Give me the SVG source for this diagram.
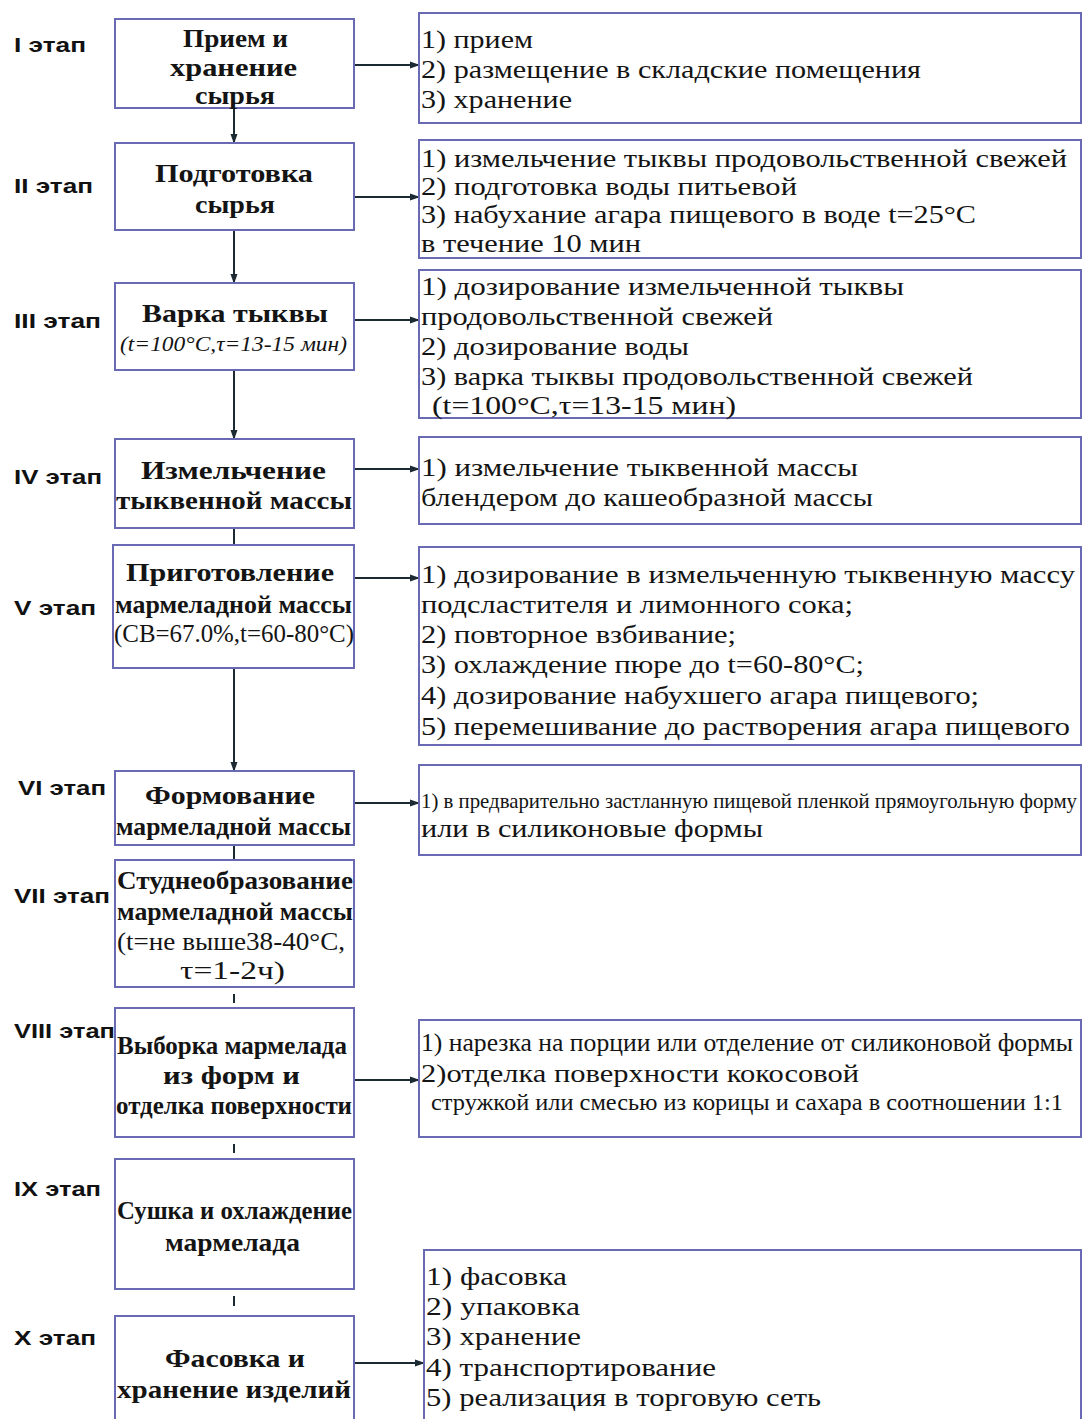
<svg xmlns="http://www.w3.org/2000/svg" width="1083" height="1419" viewBox="0 0 1083 1419">
<defs>
<style>
.box{fill:#ffffff;stroke:#6a6ab4;stroke-width:2}
.lt{font-family:"Liberation Serif","Times New Roman",serif;font-weight:bold;font-size:26px;fill:#141414}
.ln{font-family:"Liberation Serif","Times New Roman",serif;font-size:26px;fill:#141414}
.li{font-family:"Liberation Serif","Times New Roman",serif;font-style:italic;font-size:21px;fill:#141414}
.rt{font-family:"Liberation Serif","Times New Roman",serif;font-size:26px;fill:#141414}
.st{font-family:"Liberation Sans",Arial,sans-serif;font-weight:bold;font-size:21px;fill:#111}
.conn line{stroke:#1c2a33;stroke-width:2}
</style>
<marker id="ah" markerWidth="10" markerHeight="8" refX="9" refY="4" orient="auto" markerUnits="userSpaceOnUse">
<path d="M0,0.5 L10,4 L0,7.5 Z" fill="#1c2a33"/>
</marker>
</defs>
<rect width="1083" height="1419" fill="#ffffff"/>

<g id="stages">
<text class="st" x="14" y="52" textLength="72" lengthAdjust="spacingAndGlyphs">I этап</text>
<text class="st" x="14" y="193" textLength="79" lengthAdjust="spacingAndGlyphs">II этап</text>
<text class="st" x="14" y="328" textLength="87" lengthAdjust="spacingAndGlyphs">III этап</text>
<text class="st" x="14" y="484" textLength="88" lengthAdjust="spacingAndGlyphs">IV этап</text>
<text class="st" x="14" y="615" textLength="82" lengthAdjust="spacingAndGlyphs">V этап</text>
<text class="st" x="18" y="795" textLength="88" lengthAdjust="spacingAndGlyphs">VI этап</text>
<text class="st" x="14" y="903" textLength="96" lengthAdjust="spacingAndGlyphs">VII этап</text>
<text class="st" x="14" y="1038" textLength="101" lengthAdjust="spacingAndGlyphs">VIII этап</text>
<text class="st" x="14" y="1196" textLength="87" lengthAdjust="spacingAndGlyphs">IX этап</text>
<text class="st" x="14" y="1345" textLength="82" lengthAdjust="spacingAndGlyphs">X этап</text>
</g>

<g class="conn" id="connectors">
<line x1="354" y1="65" x2="419" y2="65" marker-end="url(#ah)"/>
<line x1="354" y1="197" x2="419" y2="197" marker-end="url(#ah)"/>
<line x1="354" y1="320" x2="419" y2="320" marker-end="url(#ah)"/>
<line x1="354" y1="469" x2="419" y2="469" marker-end="url(#ah)"/>
<line x1="354" y1="578" x2="419" y2="578" marker-end="url(#ah)"/>
<line x1="354" y1="803" x2="419" y2="803" marker-end="url(#ah)"/>
<line x1="354" y1="1080" x2="419" y2="1080" marker-end="url(#ah)"/>
<line x1="354" y1="1363" x2="424" y2="1363" marker-end="url(#ah)"/>
<line x1="234" y1="98" x2="234" y2="143" marker-end="url(#ah)"/>
<line x1="234" y1="230" x2="234" y2="283" marker-end="url(#ah)"/>
<line x1="234" y1="370" x2="234" y2="439" marker-end="url(#ah)"/>
<line x1="234" y1="528" x2="234" y2="545"/>
<line x1="234" y1="668" x2="234" y2="771" marker-end="url(#ah)"/>
<line x1="234" y1="845" x2="234" y2="860"/>
<line x1="234" y1="994" x2="234" y2="1003"/>
<line x1="234" y1="1144" x2="234" y2="1153"/>
<line x1="234" y1="1296" x2="234" y2="1306"/>
</g>

<g id="n1">
<rect class="box" x="115" y="19" width="239" height="89"/>
<text class="lt" x="183" y="47" textLength="105" lengthAdjust="spacingAndGlyphs">Прием и</text>
<text class="lt" x="170" y="76" textLength="127" lengthAdjust="spacingAndGlyphs">хранение</text>
<text class="lt" x="195" y="104" textLength="80" lengthAdjust="spacingAndGlyphs">сырья</text>
</g>
<g id="n2">
<rect class="box" x="115" y="143" width="239" height="87"/>
<text class="lt" x="155" y="182" textLength="158" lengthAdjust="spacingAndGlyphs">Подготовка</text>
<text class="lt" x="195" y="213" textLength="80" lengthAdjust="spacingAndGlyphs">сырья</text>
</g>
<g id="n3">
<rect class="box" x="115" y="283" width="239" height="87"/>
<text class="lt" x="142" y="322" textLength="186" lengthAdjust="spacingAndGlyphs">Варка тыквы</text>
<text class="li" x="120" y="351" textLength="227" lengthAdjust="spacingAndGlyphs">(t=100°C,τ=13-15 мин)</text>
</g>
<g id="n4">
<rect class="box" x="115" y="439" width="239" height="89"/>
<text class="lt" x="141" y="479" textLength="185" lengthAdjust="spacingAndGlyphs">Измельчение</text>
<text class="lt" x="116" y="509" textLength="236" lengthAdjust="spacingAndGlyphs">тыквенной массы</text>
</g>
<g id="n5">
<rect class="box" x="113" y="545" width="241" height="123"/>
<text class="lt" x="126" y="581" textLength="208" lengthAdjust="spacingAndGlyphs">Приготовление</text>
<text class="lt" x="115" y="613" textLength="237" lengthAdjust="spacingAndGlyphs">мармеладной массы</text>
<text class="ln" x="114" y="642" textLength="240" lengthAdjust="spacingAndGlyphs">(СВ=67.0%,t=60-80°C)</text>
</g>
<g id="n6">
<rect class="box" x="115" y="771" width="239" height="74"/>
<text class="lt" x="145" y="804" textLength="170" lengthAdjust="spacingAndGlyphs">Формование</text>
<text class="lt" x="116" y="835" textLength="235" lengthAdjust="spacingAndGlyphs">мармеладной массы</text>
</g>
<g id="n7">
<rect class="box" x="115" y="860" width="239" height="127"/>
<text class="lt" x="117" y="889" textLength="236" lengthAdjust="spacingAndGlyphs">Студнеобразование</text>
<text class="lt" x="117" y="920" textLength="236" lengthAdjust="spacingAndGlyphs">мармеладной массы</text>
<text class="ln" x="117" y="950" textLength="228" lengthAdjust="spacingAndGlyphs">(t=не выше38-40°C,</text>
<text class="ln" x="180" y="979" textLength="105" lengthAdjust="spacingAndGlyphs">τ=1-2ч)</text>
</g>
<g id="n8">
<rect class="box" x="115" y="1008" width="239" height="129"/>
<text class="lt" x="117" y="1054" textLength="230" lengthAdjust="spacingAndGlyphs">Выборка мармелада</text>
<text class="lt" x="163" y="1084" textLength="137" lengthAdjust="spacingAndGlyphs">из форм и</text>
<text class="lt" x="116" y="1114" textLength="236" lengthAdjust="spacingAndGlyphs">отделка поверхности</text>
</g>
<g id="n9">
<rect class="box" x="115" y="1159" width="239" height="130"/>
<text class="lt" x="117" y="1219" textLength="235" lengthAdjust="spacingAndGlyphs">Сушка и охлаждение</text>
<text class="lt" x="165" y="1251" textLength="135" lengthAdjust="spacingAndGlyphs">мармелада</text>
</g>
<g id="n10">
<rect class="box" x="115" y="1316" width="239" height="120"/>
<text class="lt" x="165" y="1367" textLength="140" lengthAdjust="spacingAndGlyphs">Фасовка и</text>
<text class="lt" x="117" y="1398" textLength="234" lengthAdjust="spacingAndGlyphs">хранение изделий</text>
</g>

<g id="r1">
<rect class="box" x="419" y="13" width="662" height="110"/>
<text class="rt" x="421" y="48" textLength="112" lengthAdjust="spacingAndGlyphs">1) прием</text>
<text class="rt" x="421" y="78" textLength="500" lengthAdjust="spacingAndGlyphs">2) размещение в складские помещения</text>
<text class="rt" x="421" y="108" textLength="151" lengthAdjust="spacingAndGlyphs">3) хранение</text>
</g>
<g id="r2">
<rect class="box" x="419" y="140" width="662" height="118"/>
<text class="rt" x="421" y="167" textLength="646" lengthAdjust="spacingAndGlyphs">1) измельчение тыквы продовольственной свежей</text>
<text class="rt" x="421" y="195" textLength="376" lengthAdjust="spacingAndGlyphs">2) подготовка воды питьевой</text>
<text class="rt" x="421" y="223" textLength="555" lengthAdjust="spacingAndGlyphs">3) набухание агара пищевого в воде t=25°C</text>
<text class="rt" x="421" y="252" textLength="220" lengthAdjust="spacingAndGlyphs">в течение 10 мин</text>
</g>
<g id="r3">
<rect class="box" x="419" y="270" width="662" height="148"/>
<text class="rt" x="421" y="295" textLength="483" lengthAdjust="spacingAndGlyphs">1)  дозирование измельченной тыквы</text>
<text class="rt" x="421" y="325" textLength="352" lengthAdjust="spacingAndGlyphs">продовольственной свежей</text>
<text class="rt" x="421" y="355" textLength="268" lengthAdjust="spacingAndGlyphs">2) дозирование воды</text>
<text class="rt" x="421" y="385" textLength="552" lengthAdjust="spacingAndGlyphs">3) варка тыквы продовольственной свежей</text>
<text class="rt" x="432" y="414" textLength="304" lengthAdjust="spacingAndGlyphs">(t=100°C,τ=13-15 мин)</text>
</g>
<g id="r4">
<rect class="box" x="419" y="437" width="662" height="87"/>
<text class="rt" x="421" y="476" textLength="437" lengthAdjust="spacingAndGlyphs">1)  измельчение тыквенной массы</text>
<text class="rt" x="421" y="506" textLength="452" lengthAdjust="spacingAndGlyphs">блендером до кашеобразной массы</text>
</g>
<g id="r5">
<rect class="box" x="419" y="547" width="662" height="198"/>
<text class="rt" x="421" y="583" textLength="654" lengthAdjust="spacingAndGlyphs">1)  дозирование в измельченную тыквенную массу</text>
<text class="rt" x="421" y="613" textLength="432" lengthAdjust="spacingAndGlyphs">подсластителя и лимонного сока;</text>
<text class="rt" x="421" y="643" textLength="315" lengthAdjust="spacingAndGlyphs">2) повторное взбивание;</text>
<text class="rt" x="421" y="673" textLength="443" lengthAdjust="spacingAndGlyphs">3) охлаждение пюре до t=60-80°C;</text>
<text class="rt" x="421" y="704" textLength="558" lengthAdjust="spacingAndGlyphs">4) дозирование набухшего агара пищевого;</text>
<text class="rt" x="421" y="735" textLength="649" lengthAdjust="spacingAndGlyphs">5) перемешивание до растворения агара пищевого</text>
</g>
<g id="r6">
<rect class="box" x="419" y="765" width="662" height="90"/>
<text class="rt" x="421" y="808" style="font-size:21px" textLength="656" lengthAdjust="spacingAndGlyphs">1) в предварительно застланную пищевой пленкой прямоугольную форму</text>
<text class="rt" x="421" y="837" textLength="342" lengthAdjust="spacingAndGlyphs">или в силиконовые формы</text>
</g>
<g id="r8">
<rect class="box" x="419" y="1020" width="662" height="117"/>
<text class="rt" x="421" y="1051" textLength="652" lengthAdjust="spacingAndGlyphs">1) нарезка на порции или отделение от силиконовой формы</text>
<text class="rt" x="421" y="1082" textLength="438" lengthAdjust="spacingAndGlyphs">2)отделка поверхности кокосовой</text>
<text class="rt" x="431" y="1110" style="font-size:24px" textLength="632" lengthAdjust="spacingAndGlyphs">стружкой или смесью из корицы и сахара в соотношении 1:1</text>
</g>
<g id="r10">
<rect class="box" x="424" y="1250" width="657" height="190"/>
<text class="rt" x="426" y="1285" textLength="141" lengthAdjust="spacingAndGlyphs">1)  фасовка</text>
<text class="rt" x="426" y="1315" textLength="154" lengthAdjust="spacingAndGlyphs">2)  упаковка</text>
<text class="rt" x="426" y="1345" textLength="155" lengthAdjust="spacingAndGlyphs">3)  хранение</text>
<text class="rt" x="426" y="1376" textLength="290" lengthAdjust="spacingAndGlyphs">4)  транспортирование</text>
<text class="rt" x="426" y="1406" textLength="395" lengthAdjust="spacingAndGlyphs">5)  реализация в торговую сеть</text>
</g>
</svg>
